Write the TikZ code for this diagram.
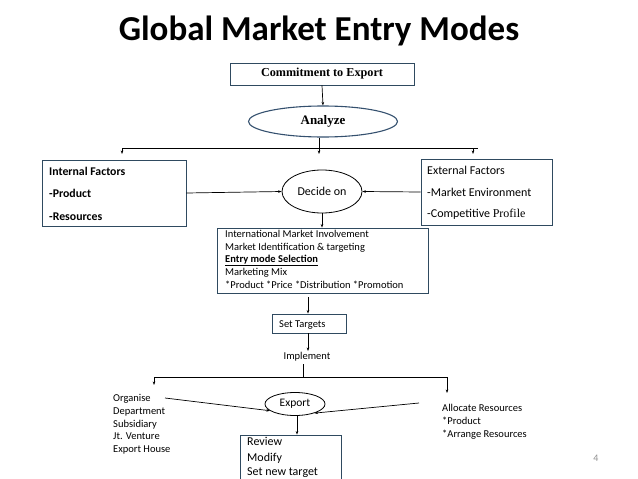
\documentclass[tikz,border=0pt]{standalone}
\usepackage{fontspec}
\setmainfont{Carlito}
\newfontfamily\tms{Liberation Serif}
\usetikzlibrary{shapes.geometric,arrows.meta}
\definecolor{boxline}{HTML}{2F4A60}
\definecolor{ellline}{HTML}{34506E}
\definecolor{pgnum}{HTML}{909090}
\begin{document}
\begin{tikzpicture}[x=1pt,y=-1pt,
  txt/.style={font=\fontsize{10.5}{12.7}\selectfont, inner sep=0pt, anchor=base west},
  big/.style={font=\fontsize{12}{14}\selectfont, inner sep=0pt, anchor=base west},
  frame/.style={draw=boxline, line width=0.9pt, inner sep=0pt},
  oval/.style={ellipse, draw, line width=0.8pt, inner sep=0pt},
  arr/.style={-{Stealth[length=3.5pt,width=2.6pt]}, line width=0.7pt},
  ln/.style={line width=0.9pt}]
\useasboundingbox (0,0) rectangle (638,479);
\clip (0,0) rectangle (638,479);
% title
\node[anchor=base, inner sep=0pt, font=\bfseries\fontsize{35}{42}\selectfont] (title) at (319,40) {Global Market Entry Modes};
% commitment
\node[frame, minimum width=184pt, minimum height=22pt, font=\tms\bfseries\fontsize{12.2}{14}\selectfont] (commit) at (322,74) {Commitment to Export};
\node[oval, draw=ellline, line width=1.1pt, minimum width=149pt, minimum height=31pt, font=\tms\bfseries\fontsize{13}{15}\selectfont] (analyze) at (323,121.5) {Analyze};
\draw[arr] (commit.south) -- (analyze.north);
% distribution line
\coordinate (bl) at (122,148);
\coordinate (bm) at (319,148);
\coordinate (br) at (473,148);
\coordinate (brr) at (478,148);
\draw[ln] (analyze.south -| bm) -- (bm);
\draw[ln] (bl) -- (brr);
\coordinate (al) at (122,154);
\coordinate (am) at (319,154);
\coordinate (ar) at (473,154);
\draw[arr] (bl) -- (al);
\draw[arr] (bm) -- (am);
\draw[arr] (br) -- (ar);
% internal factors
\node[frame, minimum width=144pt, minimum height=66pt] (internal) at (114,193) {};
\node[big, font=\bfseries\fontsize{11.8}{14}\selectfont] (i1) at (49,175.5) {Internal Factors};
\node[big, font=\bfseries\fontsize{11.8}{14}\selectfont] (i2) at (49,197.5) {-Product};
\node[big, font=\bfseries\fontsize{11.8}{14}\selectfont] (i3) at (49,220.5) {-Resources};
% external factors
\node[frame, minimum width=131pt, minimum height=66pt] (external) at (486.5,192) {};
\node[big] (e1) at (427,174.5) {External Factors};
\node[big] (e2) at (427,196.5) {-Market Environment};
\node[big] (e3) at (427,217.5) {-Competitive \tms Profile};
% decide on
\node[oval, minimum width=80pt, minimum height=43pt, font=\fontsize{12}{14}\selectfont] (decide) at (322,191.5) {Decide on};
\draw[arr] (internal.east) -- (decide.west);
\draw[arr] (external.west) -- (decide.east);
% big box
\node[frame, minimum width=211pt, minimum height=65pt] (bigbox) at (322.5,260.5) {};
\draw[arr] (decide.south) -- (bigbox.north -| decide.south);
\node[txt] (g1) at (225,237.5) {International Market Involvement};
\node[txt] (g2) at (225,250) {Market Identification \& targeting};
\node[txt] (g3) at (225,262.5) {\bfseries\underline{Entry mode Selection}};
\node[txt] (g4) at (225,275.5) {Marketing Mix};
\node[txt] (g5) at (225,288) {*Product *Price *Distribution *Promotion};
% set targets
\node[frame, minimum width=74pt, minimum height=19pt] (set) at (309,323.5) {};
\node[txt] (settxt) at (279,327.5) {Set Targets};
\coordinate (s0) at (308,297);
\draw[arr] (s0) -- (set.north -| s0);
\node[anchor=base, inner sep=1pt, font=\fontsize{10.5}{12}\selectfont] (impl) at (307,359.5) {Implement};
\draw[arr] (set.south -| s0) -- (impl.north -| s0);
% implement distribution
\coordinate (c0) at (303,364);
\coordinate (c1) at (303,377);
\coordinate (cl) at (154,377);
\coordinate (cr) at (447,377);
\draw[ln] (c0) -- (c1);
\draw[ln] (cl) -- (cr);
\coordinate (dl) at (154,385);
\coordinate (dr) at (447,393);
\draw[arr] (cl) -- (dl);
\draw[arr] (cr) -- (dr);
% left list
\node[txt] (o1) at (113,401.5) {Organise};
\node[txt] (o2) at (113,414.5) {Department};
\node[txt] (o3) at (113,427) {Subsidiary};
\node[txt] (o4) at (113,439.5) {Jt. Venture};
\node[txt] (o5) at (113,452.5) {Export House};
% right list
\node[txt] (r1) at (442,411.5) {Allocate Resources};
\node[txt] (r2) at (442,424.5) {*Product};
\node[txt] (r3) at (442,437) {*Arrange Resources};
% export
\node[oval, minimum width=60pt, minimum height=23pt, font=\fontsize{11.5}{13}\selectfont] (export) at (295,404) {Export};
\coordinate (ol) at (165,398);
\coordinate (or) at (419,403);
\draw[arr] (ol) -- (export.195);
\draw[arr] (or) -- (export.-25);
% review
\node[frame, minimum width=101pt, minimum height=50pt] (review) at (290.5,460) {};
\draw[arr] (export.south -| 297,0) -- (review.north -| 297,0);
\node[big] (v1) at (247,445) {Review};
\node[big] (v2) at (247,461) {Modify};
\node[big] (v3) at (247,475.5) {Set new target};
% page number
\node[anchor=base, inner sep=0pt, text=pgnum, font=\fontsize{10}{12}\selectfont] (pg) at (596,461) {4};
\end{tikzpicture}
\end{document}
